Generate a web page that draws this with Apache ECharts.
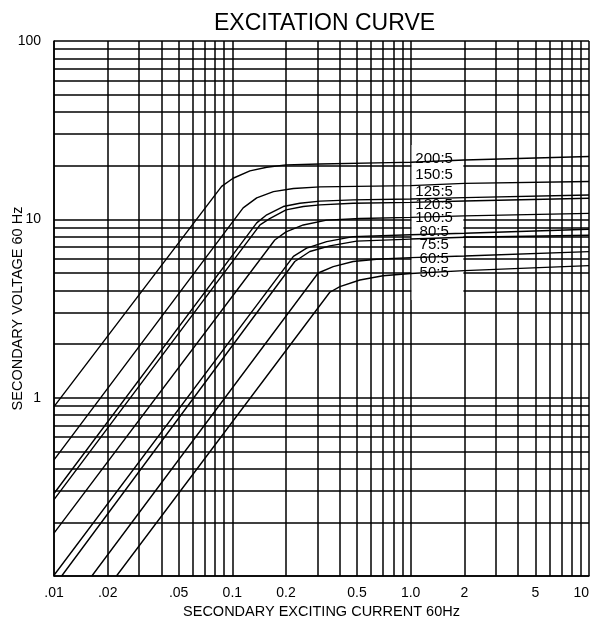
<!DOCTYPE html>
<html><head><meta charset="utf-8">
<script src="https://cdn.jsdelivr.net/npm/echarts@6/dist/echarts.min.js"></script>
<style>html,body{margin:0;padding:0;background:#fff}#chart{width:595px;height:622px}</style>
</head><body><div id="chart"></div>
<script>
// ---- data (secondary current A, secondary voltage V) ----
const ratios = ['200:5','150:5','125:5','120:5','100:5','80:5','75:5','60:5','50:5'];

const curve200 = [[0.01,0.89],[0.0871,15.3],[0.101,17.0],[0.1255,18.7],[0.156,19.6],[0.2,20.2],[0.31,20.45],[0.76,20.8],[1,20.9],[2,21.5],[10,22.5]];
const curve150 = [[0.01,0.448],[0.115,11.6],[0.137,13.2],[0.17,14.3],[0.22,14.9],[0.31,15.2],[1,15.45],[2,15.9],[10,16.3]];
const curve125 = [[0.01,0.29],[0.137,9.55],[0.156,10.6],[0.193,11.8],[0.239,12.3],[0.31,12.65],[0.476,12.85],[1,13.0],[2,13.24],[10,13.7]];
const curve120 = [[0.01,0.268],[0.143,9.3],[0.162,10.1],[0.2,11.3],[0.25,11.8],[0.31,12.05],[0.476,12.3],[1,12.45],[2,12.68],[10,13.13]];
const curve100 = [[0.01,0.174],[0.173,7.66],[0.2,8.5],[0.25,9.3],[0.338,9.9],[0.52,10.1],[1,10.25],[2,10.45],[10,10.8]];
const curve80  = [[0.01,0.101],[0.22,6.2],[0.261,6.9],[0.338,7.5],[0.476,8.0],[1,8.2],[2,8.36],[10,8.8]];
const curve75  = [[0.01104,0.1],[0.224,5.8],[0.272,6.6],[0.352,7.1],[0.497,7.55],[1,7.75],[2,7.94],[10,8.15]];
const curve60  = [[0.0163,0.1],[0.303,5.0],[0.368,5.43],[0.476,5.8],[0.644,5.97],[1,6.1],[2,6.23],[10,6.59]];
const curve50  = [[0.0224,0.1],[0.352,3.9],[0.401,4.19],[0.519,4.57],[0.70,4.83],[1,4.97],[2,5.16],[10,5.5]];

// gridline values and tick labels
const xGridValues = [0.01,0.02,0.03,0.04,0.05,0.06,0.07,0.08,0.09,0.1,0.2,0.3,0.4,0.5,0.6,0.7,0.8,0.9,1,2,3,4,5,6,7,8,9,10];
const xTickValues = [0.01,0.02,0.05,0.1,0.2,0.5,1,2,5,10];
const xTickLabels = ['.01','.02','.05','0.1','0.2','0.5','1.0','2','5','10'];
const yGridValues = [0.1,0.2,0.3,0.4,0.5,0.6,0.7,0.8,0.9,1,2,3,4,5,6,7,8,9,10,20,30,40,50,60,70,80,90,100];
const yTickValues = [1,10,100];
const yTickLabels = ['1','10','100'];

// ---- layout / style ----
const FONT = '"Liberation Sans", Arial, Helvetica, sans-serif';
const curves = [curve200,curve150,curve125,curve120,curve100,curve80,curve75,curve60,curve50];
const labelOffsets = [-3,-11,-7,2,0,-3,6,1,-1];
const labelX = 1.354;
const box = [[1.012, 26.1],[1.975, 3.53]];

function lookup(values, labels, v){
  let best = 0, bd = Infinity;
  values.forEach((t,i)=>{ const d = Math.abs(Math.log10(t) - Math.log10(v)); if(d<bd){bd=d;best=i;} });
  return bd < 0.01 ? labels[best] : '';
}

const series = curves.map((d,i)=>({
  name: ratios[i], type:'line', data:d, symbol:'none', smooth:false, silent:true, animation:false,
  lineStyle:{color:'#000', width:1.4},
  markPoint:{
    symbol:'rect', symbolSize:1, silent:true, animation:false,
    itemStyle:{color:'rgba(0,0,0,0)'},
    data:[{name:ratios[i], coord:[labelX, d.find(p=>p[0]===1)[1]],
      label:{show:true, position:'inside', offset:[0,labelOffsets[i]], formatter:ratios[i],
        color:'#000', fontSize:15, fontFamily:FONT}}]
  }
}));
series[0].markArea = {
  silent:true, z:3, animation:false,
  itemStyle:{color:'#fff', borderWidth:0},
  label:{show:false},
  data:[[{coord:box[0]},{coord:box[1]}]]
};

const chart = echarts.init(document.getElementById('chart'));
chart.setOption({
  animation:false,
  backgroundColor:'#fff',
  title:{text:'EXCITATION CURVE', left:209, top:7,
    textStyle:{color:'#000', fontSize:23, fontWeight:'normal', fontFamily:FONT}},
  grid:{left:54, right:6, top:41, bottom:46, containLabel:false, outerBoundsMode:'none'},
  xAxis:{
    type:'log', logBase:10, min:0.01, max:10,
    name:'SECONDARY EXCITING CURRENT 60Hz', nameLocation:'middle', nameGap:27,
    nameTextStyle:{color:'#000', fontSize:14.5, fontFamily:FONT},
    axisLine:{show:true, lineStyle:{color:'#000', width:1.5}},
    axisTick:{show:false, customValues:xGridValues},
    axisLabel:{customValues:xTickValues, color:'#000', fontSize:14, fontFamily:FONT, margin:10,
      alignMaxLabel:'right', formatter:v=>lookup(xTickValues,xTickLabels,v)},
    splitLine:{show:true, lineStyle:{color:'#000', width:1.5}},
    minorTick:{show:false}, minorSplitLine:{show:false}
  },
  yAxis:{
    type:'log', logBase:10, min:0.1, max:100,
    name:'SECONDARY VOLTAGE 60 Hz', nameLocation:'middle', nameGap:29, nameMoveOverlap:false,
    nameTextStyle:{color:'#000', fontSize:14.5, fontFamily:FONT},
    axisLine:{show:true, lineStyle:{color:'#000', width:1.5}},
    axisTick:{show:false, customValues:yGridValues},
    axisLabel:{customValues:yTickValues, color:'#000', fontSize:14, fontFamily:FONT, margin:13,
      formatter:v=>lookup(yTickValues,yTickLabels,v)},
    splitLine:{show:true, lineStyle:{color:'#000', width:1.5}},
    minorTick:{show:false}, minorSplitLine:{show:false}
  },
  series:series
});
</script></body></html>
